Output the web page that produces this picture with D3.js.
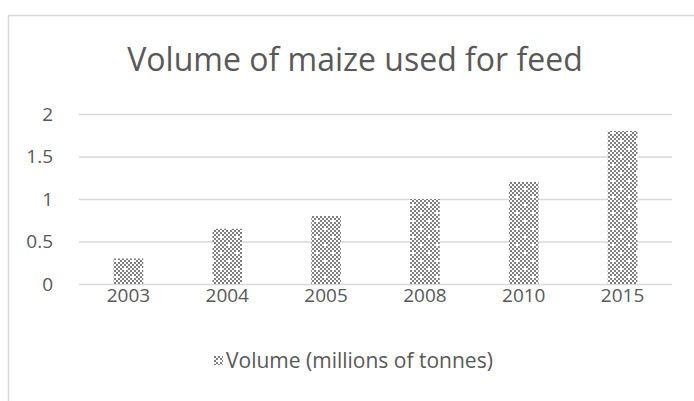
<!DOCTYPE html>
<html>
<head>
<meta charset="utf-8">
<script src="https://cdn.jsdelivr.net/npm/d3@7"></script>
<style>
  body { margin: 0; background: #fff; }
  text { font-family: "Open Sans", sans-serif; fill: #595959; }
</style>
</head>
<body>
<div id="chart"></div>
<script>
var years = ["2003", "2004", "2005", "2008", "2010", "2015"];
var volumes = [0.3, 0.65, 0.8, 1.0, 1.2, 1.8];
var yTicks = [0, 0.5, 1, 1.5, 2];
var seriesName = "Volume (millions of tonnes)";
var titleText = "Volume of maize used for feed";

var width = 694, height = 401;
var plot = {left: 79, right: 672, top: 114, bottom: 284};

var svg = d3.select("#chart").append("svg")
    .attr("width", width)
    .attr("height", height);

// checker fill like the office pattern
var defs = svg.append("defs");
var pat = defs.append("pattern")
    .attr("id", "checker")
    .attr("patternUnits", "userSpaceOnUse")
    .attr("width", 16)
    .attr("height", 16);
pat.append("rect").attr("width", 16).attr("height", 16).attr("fill", "#fff");
for (var r = 0; r < 8; r++) {
    for (var c = 0; c < 8; c++) {
        if ((r + c) % 2 === 0) {
            pat.append("rect")
                .attr("x", c * 2).attr("y", r * 2)
                .attr("width", 2).attr("height", 2)
                .attr("fill", "#7f7f7f");
        }
    }
}
// a couple of lighter specks
pat.append("rect").attr("x", 4).attr("y", 4).attr("width", 2).attr("height", 2).attr("fill", "#fff");
pat.append("rect").attr("x", 12).attr("y", 12).attr("width", 2).attr("height", 2).attr("fill", "#fff");

// chart area border
svg.append("rect")
    .attr("x", 8.5).attr("y", 15.5)
    .attr("width", width).attr("height", height)
    .attr("fill", "none")
    .attr("stroke", "#d9d9d9")
    .attr("stroke-width", 1.5);

var x = d3.scaleBand().domain(years).range([plot.left, plot.right]).paddingInner(0.7).paddingOuter(0.35);
var y = d3.scaleLinear().domain([0, 2]).range([plot.bottom, plot.top]);

svg.append("text")
    .attr("x", 355)
    .attr("y", 71)
    .attr("text-anchor", "middle")
    .style("font-size", "32px")
    .text(titleText);

// gridlines
svg.append("g")
    .attr("transform", "translate(" + plot.left + ",0)")
    .call(d3.axisLeft(y).tickValues(yTicks).tickSize(-(plot.right - plot.left)).tickFormat(""))
    .call(function(g) {
        g.select(".domain").remove();
        g.selectAll("line").attr("stroke", "#d9d9d9").attr("stroke-width", 1.5);
    });

// y labels
svg.append("g")
    .attr("transform", "translate(" + 53 + ",0)")
    .call(d3.axisLeft(y).tickValues(yTicks).tickSize(0).tickPadding(0).tickFormat(d3.format("")))
    .call(function(g) {
        g.select(".domain").remove();
        g.selectAll("text").style("font-size", "19px").style("font-family", "'Open Sans', sans-serif").attr("fill", "#595959");
    });

svg.selectAll(".bar")
    .data(volumes)
    .enter().append("rect")
    .attr("class", "bar")
    .attr("x", function(d, i) { return x(years[i]); })
    .attr("width", x.bandwidth())
    .attr("y", function(d) { return y(d); })
    .attr("height", function(d) { return y(0) - y(d); })
    .attr("fill", "url(#checker)");

// x labels
svg.append("g")
    .attr("transform", "translate(0," + (plot.bottom + 4) + ")")
    .call(d3.axisBottom(x).tickSize(0).tickPadding(0))
    .call(function(g) {
        g.select(".domain").remove();
        g.selectAll("text").style("font-size", "19px").style("font-family", "'Open Sans', sans-serif").attr("fill", "#595959");
    });

// legend
var legend = svg.append("g").attr("transform", "translate(214,356)");
legend.append("rect")
    .attr("width", 9).attr("height", 9)
    .attr("fill", "url(#checker)");
legend.append("text")
    .attr("x", 12)
    .attr("y", 5)
    .attr("dy", "0.35em")
    .style("font-size", "21px")
    .text(seriesName);
</script>
</body>
</html>
